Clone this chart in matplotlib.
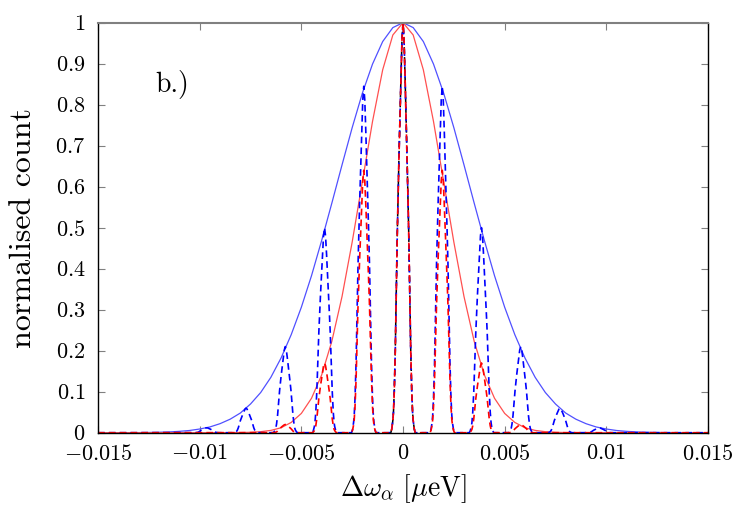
import numpy as np
import matplotlib
matplotlib.use("Agg")
import matplotlib.pyplot as plt

# =========================
# DATA
# =========================
# smooth envelopes, sampled every 0.0005 from -0.015 to 0.015
env_x = [round(-0.015 + 0.0005 * i, 4) for i in range(61)]
blue_half = [1.0, 0.988, 0.954, 0.899, 0.828, 0.744, 0.653, 0.560, 0.469, 0.383,
             0.306, 0.239, 0.182, 0.135, 0.098, 0.070, 0.048, 0.033, 0.022, 0.014,
             0.009, 0.0054, 0.0033, 0.0019, 0.0011, 0.0006, 0.0003, 0.0002, 0.0001, 0.0, 0.0]
red_half = [1.0, 0.970, 0.885, 0.759, 0.612, 0.465, 0.332, 0.223, 0.141, 0.084,
            0.047, 0.025, 0.012, 0.0056, 0.0025, 0.001, 0.0004, 0.0001, 0.0, 0.0,
            0.0, 0.0, 0.0, 0.0, 0.0, 0.0, 0.0, 0.0, 0.0, 0.0, 0.0]
blue_env = blue_half[::-1] + blue_half[1:]
red_env = red_half[::-1] + red_half[1:]

# comb of narrow lobes (dashed curves)
lobe_centres = [-0.00965, -0.00772, -0.00579, -0.00386, -0.00193, 0.0,
                0.00193, 0.00386, 0.00579, 0.00772, 0.00965]
blue_peaks = [0.012, 0.06, 0.21, 0.50, 0.845, 1.0, 0.845, 0.50, 0.21, 0.06, 0.012]
red_peaks = [0.0, 0.0, 0.02, 0.17, 0.64, 1.0, 0.64, 0.17, 0.02, 0.0, 0.0]

lobe_offsets = [-0.0007, -0.0006, -0.00055, -0.0005, -0.00047, -0.00043, -0.00038,
                -0.00034, -0.00028, -0.00024, -0.0002, -0.00015, -0.0001, -0.00005, 0.0,
                0.00005, 0.0001, 0.00015, 0.0002, 0.00024, 0.00028, 0.00034,
                0.00038, 0.00043, 0.00047, 0.0005, 0.00055, 0.0006, 0.0007]
lobe_shape = [0.0, 0.0, 0.01, 0.03, 0.05, 0.1, 0.2, 0.32, 0.49, 0.58, 0.67, 0.77,
              0.87, 0.96, 1.0, 0.96, 0.87, 0.77, 0.67, 0.58, 0.49, 0.32, 0.2, 0.1,
              0.05, 0.03, 0.01, 0.0, 0.0]

xticks = [-0.015, -0.01, -0.005, 0, 0.005, 0.01, 0.015]
xtick_labels = ["-0.015", "-0.01", "-0.005", "0", "0.005", "0.01", "0.015"]
yticks = [0, 0.1, 0.2, 0.3, 0.4, 0.5, 0.6, 0.7, 0.8, 0.9, 1]
ytick_labels = ["0", "0.1", "0.2", "0.3", "0.4", "0.5", "0.6", "0.7", "0.8", "0.9", "1"]


def comb(peaks):
    xs, ys = [-0.015], [0.0]
    for c, p in zip(lobe_centres, peaks):
        xs += [c + o for o in lobe_offsets]
        ys += [p * s for s in lobe_shape]
    xs.append(0.015)
    ys.append(0.0)
    return xs, ys


# =========================
# STYLE
# =========================
plt.rcParams.update({
    "font.family": "serif",
    "font.serif": ["cmr10"],
    "mathtext.fontset": "cm",
    "axes.unicode_minus": False,
})

fig = plt.figure(figsize=(7.5, 5.25), dpi=100)
ax = fig.add_axes([0.1307, 0.1758, 0.8133, 0.781])

ax.plot(env_x, blue_env, color="#5050ff", lw=0.9)
ax.plot(env_x, red_env, color="#ff5050", lw=0.9)

# black dashed: only the central lobe
ax.plot(lobe_offsets, lobe_shape, color="black", lw=1.1, dashes=(4, 2.5))
bx, by = comb(blue_peaks)
ax.plot(bx, by, color="#0000ff", lw=1.2, dashes=(4, 2.5))
rx, ry = comb(red_peaks)
ax.plot(rx, ry, color="#ff0000", lw=1.2, dashes=(4, 2.5))

ax.set_xlim(-0.015, 0.015)
ax.set_ylim(0, 1)
ax.set_xticks(xticks)
ax.set_xticklabels(["$" + t + "$" for t in xtick_labels])
ax.set_yticks(yticks)
ax.set_yticklabels(["$" + t + "$" for t in ytick_labels])
ax.tick_params(direction="in", top=True, right=True, length=5, width=0.8,
               color="#808080", labelsize=16)
ax.tick_params(axis="x", pad=8)
ax.tick_params(axis="y", pad=9)
for s in ax.spines.values():
    s.set_color("black")
    s.set_linewidth(1.0)
ax.spines["top"].set_color("#808080")
ax.spines["top"].set_linewidth(1.5)

ax.set_xlabel(r"$\Delta\omega_\alpha\ [\mu\mathrm{eV}]$", fontsize=20, labelpad=6)
ax.set_ylabel("normalised count", fontsize=23, labelpad=13)
ax.text(-0.0122, 0.83, "b.)", fontsize=20)

fig.savefig("out.png", dpi=100)
